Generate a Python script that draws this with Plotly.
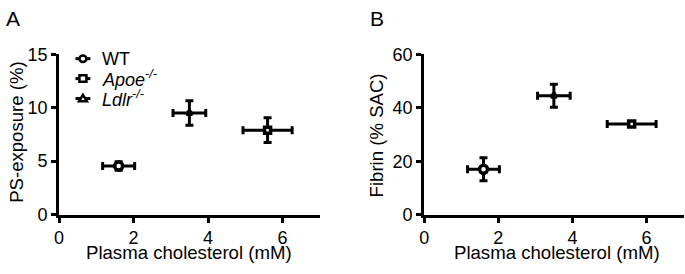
import plotly.graph_objects as go

W, H = 685, 274

# ---- data ----
groups = ["WT", "Apoe-/-", "Ldlr-/-"]
symbols = ["circle", "square", "triangle-up"]
marker_sizes = [8, 6, 5]
chol_mean = [1.6, 5.6, 3.5]
chol_err = [0.43, 0.66, 0.44]
ps_mean = [4.55, 7.9, 9.5]
ps_err = [0.4, 1.15, 1.15]
fibrin_mean = [17.0, 33.9, 44.5]
fibrin_err = [4.3, 0.8, 4.3]

x_ticks = [0, 2, 4, 6]
ps_ticks = [0, 5, 10, 15]
fibrin_ticks = [0, 20, 40, 60]

FONT = "Liberation Sans, Arial, sans-serif"
TITLE_SIZE = 18.6
TICK_SIZE = 18


def X(px):
    return px / W


def Y(py):
    return 1 - py / H


fig = go.Figure()

for i, g in enumerate(groups):
    common = dict(
        mode="markers",
        showlegend=False,
        marker=dict(symbol=symbols[i], size=marker_sizes[i], color="white",
                    line=dict(color="black", width=3.5)),
    )
    fig.add_trace(go.Scatter(
        x=[chol_mean[i]], y=[ps_mean[i]], name=g,
        error_x=dict(type="data", array=[chol_err[i]], color="black", thickness=3, width=4),
        error_y=dict(type="data", array=[ps_err[i]], color="black", thickness=3, width=4),
        xaxis="x", yaxis="y", **common))
    fig.add_trace(go.Scatter(
        x=[chol_mean[i]], y=[fibrin_mean[i]], name=g,
        error_x=dict(type="data", array=[chol_err[i]], color="black", thickness=3, width=4),
        error_y=dict(type="data", array=[fibrin_err[i]], color="black", thickness=3, width=4),
        xaxis="x2", yaxis="y2", **common))

axis_common = dict(
    showgrid=False, zeroline=False, showline=True, linecolor="black", linewidth=3,
    ticks="outside", ticklen=5, tickwidth=3, tickcolor="black",
    tickfont=dict(family=FONT, size=TICK_SIZE, color="black"),
)

fig.update_layout(
    width=W, height=H,
    margin=dict(l=0, r=0, t=0, b=0),
    paper_bgcolor="white", plot_bgcolor="white",
    font=dict(family=FONT, color="black"),
    showlegend=False,
    xaxis=dict(domain=[X(54.5), X(317)], range=[0, 7], tickvals=x_ticks,
               anchor="y", **axis_common),
    yaxis=dict(domain=[Y(220.7), Y(47.7)], range=[0, 15], tickvals=ps_ticks,
               anchor="x", **axis_common),
    xaxis2=dict(domain=[X(422.3), X(683.5)], range=[0, 7], tickvals=x_ticks,
                anchor="y2", **axis_common),
    yaxis2=dict(domain=[Y(221), Y(47.7)], range=[0, 60], tickvals=fibrin_ticks,
                anchor="x2", **axis_common),
)

annotations = []
tfont = dict(family=FONT, size=TITLE_SIZE, color="black")
# axis titles
annotations.append(dict(text="Plasma cholesterol (mM)", x=X(185.5), y=Y(262), xref="paper", yref="paper",
                        xanchor="center", yanchor="middle", showarrow=False, font=tfont))
annotations.append(dict(text="Plasma cholesterol (mM)", x=X(556), y=Y(262), xref="paper", yref="paper",
                        xanchor="center", yanchor="middle", showarrow=False, font=tfont))
annotations.append(dict(text="PS-exposure (%)", x=X(11.5), y=Y(131), xref="paper", yref="paper",
                        xanchor="center", yanchor="middle", showarrow=False, textangle=-90, font=tfont))
annotations.append(dict(text="Fibrin (% SAC)", x=X(374), y=Y(135), xref="paper", yref="paper",
                        xanchor="center", yanchor="middle", showarrow=False, textangle=-90, font=tfont))
# panel labels
annotations.append(dict(text="A", x=X(8), y=Y(9), xref="paper", yref="paper",
                        xanchor="center", yanchor="middle", showarrow=False,
                        font=dict(family=FONT, size=21, color="black")))
annotations.append(dict(text="B", x=X(375), y=Y(9), xref="paper", yref="paper",
                        xanchor="center", yanchor="middle", showarrow=False,
                        font=dict(family=FONT, size=21, color="black")))

# legend (custom)
legend_labels = ["WT", "<i>Apoe<sup>-/-</sup></i>", "<i>Ldlr<sup>-/-</sup></i>"]
rows = [52.5, 74, 95.5]
shapes = []
lx0, lx1, mx, r = 71, 86, 78.5, 3.5
for i, (lab, ry) in enumerate(zip(legend_labels, rows)):
    shapes.append(dict(type="line", xref="paper", yref="paper",
                       x0=X(lx0), x1=X(lx1), y0=Y(ry), y1=Y(ry),
                       line=dict(color="black", width=3)))
    if symbols[i] == "circle":
        shapes.append(dict(type="circle", xref="paper", yref="paper",
                           x0=X(mx - r), x1=X(mx + r), y0=Y(ry + r), y1=Y(ry - r),
                           fillcolor="white", line=dict(color="black", width=2.5)))
    elif symbols[i] == "square":
        shapes.append(dict(type="rect", xref="paper", yref="paper",
                           x0=X(mx - r), x1=X(mx + r), y0=Y(ry + r), y1=Y(ry - r),
                           fillcolor="white", line=dict(color="black", width=2.5)))
    else:
        path = "M {} {} L {} {} L {} {} Z".format(
            X(mx - r - 0.5), Y(ry + r - 0.5), X(mx + r + 0.5), Y(ry + r - 0.5), X(mx), Y(ry - r - 0.5))
        shapes.append(dict(type="path", xref="paper", yref="paper", path=path,
                           fillcolor="white", line=dict(color="black", width=2.5)))
    annotations.append(dict(text=lab, x=X(95.5), y=Y(ry), xref="paper", yref="paper",
                            xanchor="left", yanchor="middle", showarrow=False,
                            font=dict(family=FONT, size=TICK_SIZE, color="black")))

fig.update_layout(annotations=annotations, shapes=shapes)

fig.write_html("out.html", config={"displayModeBar": False},
               post_script="document.body.style.margin='0';document.body.style.padding='0';document.body.style.overflow='hidden';")
